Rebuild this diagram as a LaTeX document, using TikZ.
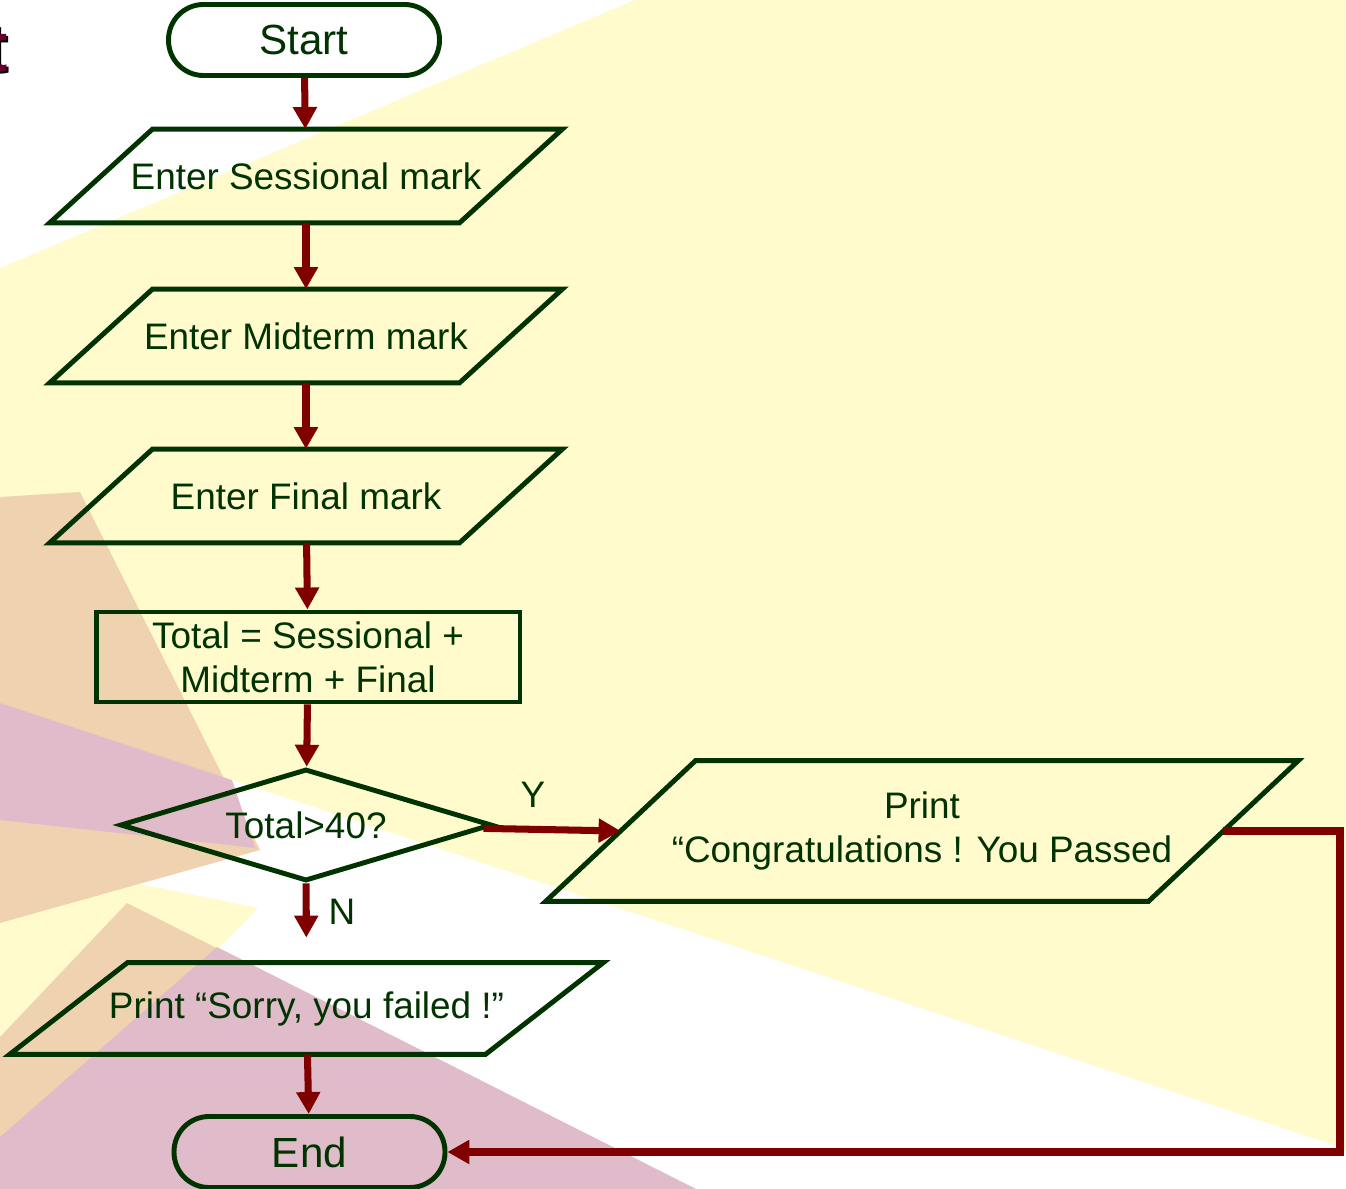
\documentclass[tikz,border=0pt]{standalone}
\usepackage{fontspec}
\setmainfont{Liberation Sans}
\usetikzlibrary{shapes.geometric,arrows.meta,calc}

\definecolor{leaf}{HTML}{003300}
\definecolor{wine}{HTML}{800000}
\definecolor{cream}{HTML}{FFFBCC}
\definecolor{sand}{HTML}{EFD3B1}
\definecolor{rose}{HTML}{E0BCCB}
\definecolor{plum}{HTML}{660033}

\begin{document}
\begin{tikzpicture}[x=0.02cm,y=-0.02cm,>={Triangle[length=0.44cm,width=0.46cm]},
      line width=2.8pt,
      every node/.style={font=\fontsize{21}{25}\selectfont, text=leaf},
      term node/.style={draw=leaf, rectangle, rounded corners=0.7cm,
        minimum width=5.42cm, minimum height=1.42cm,
        font=\fontsize{24}{28}\selectfont},
      io node/.style={rectangle, inner sep=0pt, align=center},
      in node/.style={io node, minimum width=8.1cm, minimum height=1.78cm},
      proc node/.style={draw=leaf, rectangle, minimum width=8.48cm,
        minimum height=1.8cm, inner sep=0pt, align=center},
      test node/.style={draw=leaf, diamond, aspect=3.32, minimum width=7.44cm,
        minimum height=2.24cm, inner sep=0pt},
      flow/.style={->, wine, line width=4pt}]
 % slide background
 \useasboundingbox (0,0) rectangle (1346,1189);
 \fill[white] (0,0) rectangle (1346,1189);
 \fill[cream] (635,0) -- (1346,0) -- (1346,1149) -- (0,703) -- (0,268) -- cycle;
 \fill[cream] (0,900) -- (140,884) -- (258,908) -- (217,950) -- (0,1040) -- cycle;
 \fill[sand] (0,497) -- (80,492) -- (260,850) -- (0,923) -- cycle;
 \fill[sand] (127,903) -- (300,990) -- (0,1189) -- (0,1037) -- cycle;
 \fill[rose] (0,703) -- (232,780) -- (255,848) -- (0,820) -- cycle;
 \fill[rose] (217,947) -- (696,1189) -- (0,1189) -- (0,1137) -- cycle;
 \node[inner sep=0pt, anchor=base east, text=black,
   font=\bfseries\fontsize{40}{40}\selectfont] (ttlshadow) at (12,74) {t};
 \node[inner sep=0pt, anchor=base east, text=plum,
   font=\bfseries\fontsize{40}{40}\selectfont] (ttl) at (10,72) {t};

 % flowchart
 \node[term node] (start) at (304,40) {Start};
 \node[in node] (sess) at (306,176) {Enter Sessional mark};
 \node[in node] (mid) at (306,336) {Enter Midterm mark};
 \node[in node] (fin) at (306,496) {Enter Final mark};
 \node[proc node] (tot) at (308,657) {Total = Sessional +\\Midterm + Final};
 \node[test node] (test) at (306,825) {Total>40?};
 \node[io node, minimum width=11.96cm, minimum height=2.72cm] (pass) at (922,831)
   {Print\\“Congratulations ! You Passed};
 \node[io node, minimum width=9.42cm, minimum height=1.74cm] (fail) at (306.5,1008.5)
   {Print “Sorry, you failed !”};
 \node[term node] (stop) at (309.5,1152) {End};
 \node (yes) at (533,795) {Y};
 \node (no) at (342,912) {N};
 \coordinate (rt) at (1340,990);

 % slanted sides of the input/output boxes
 \foreach \n/\s in {sess/51.5, mid/51.5, fin/51.5, pass/75, fail/59}
  \draw[leaf] ($(\n.north west)+(\s,0)$) -- ($(\n.north east)+(\s,0)$)
   -- ($(\n.south east)-(\s,0)$) -- ($(\n.south west)-(\s,0)$) -- cycle;

 \path[flow]
 (start) edge (sess)
 (sess) edge (mid)
 (mid) edge (fin)
 (fin) edge (tot)
 (tot) edge (test)
 (test) edge (pass.west)
 (test) edge [shorten >=0.5cm] (fail)
 (fail) edge (stop)
 ;
 \draw[flow] (pass.east) -| (rt) |- (stop.east);
\end{tikzpicture}
\end{document}
